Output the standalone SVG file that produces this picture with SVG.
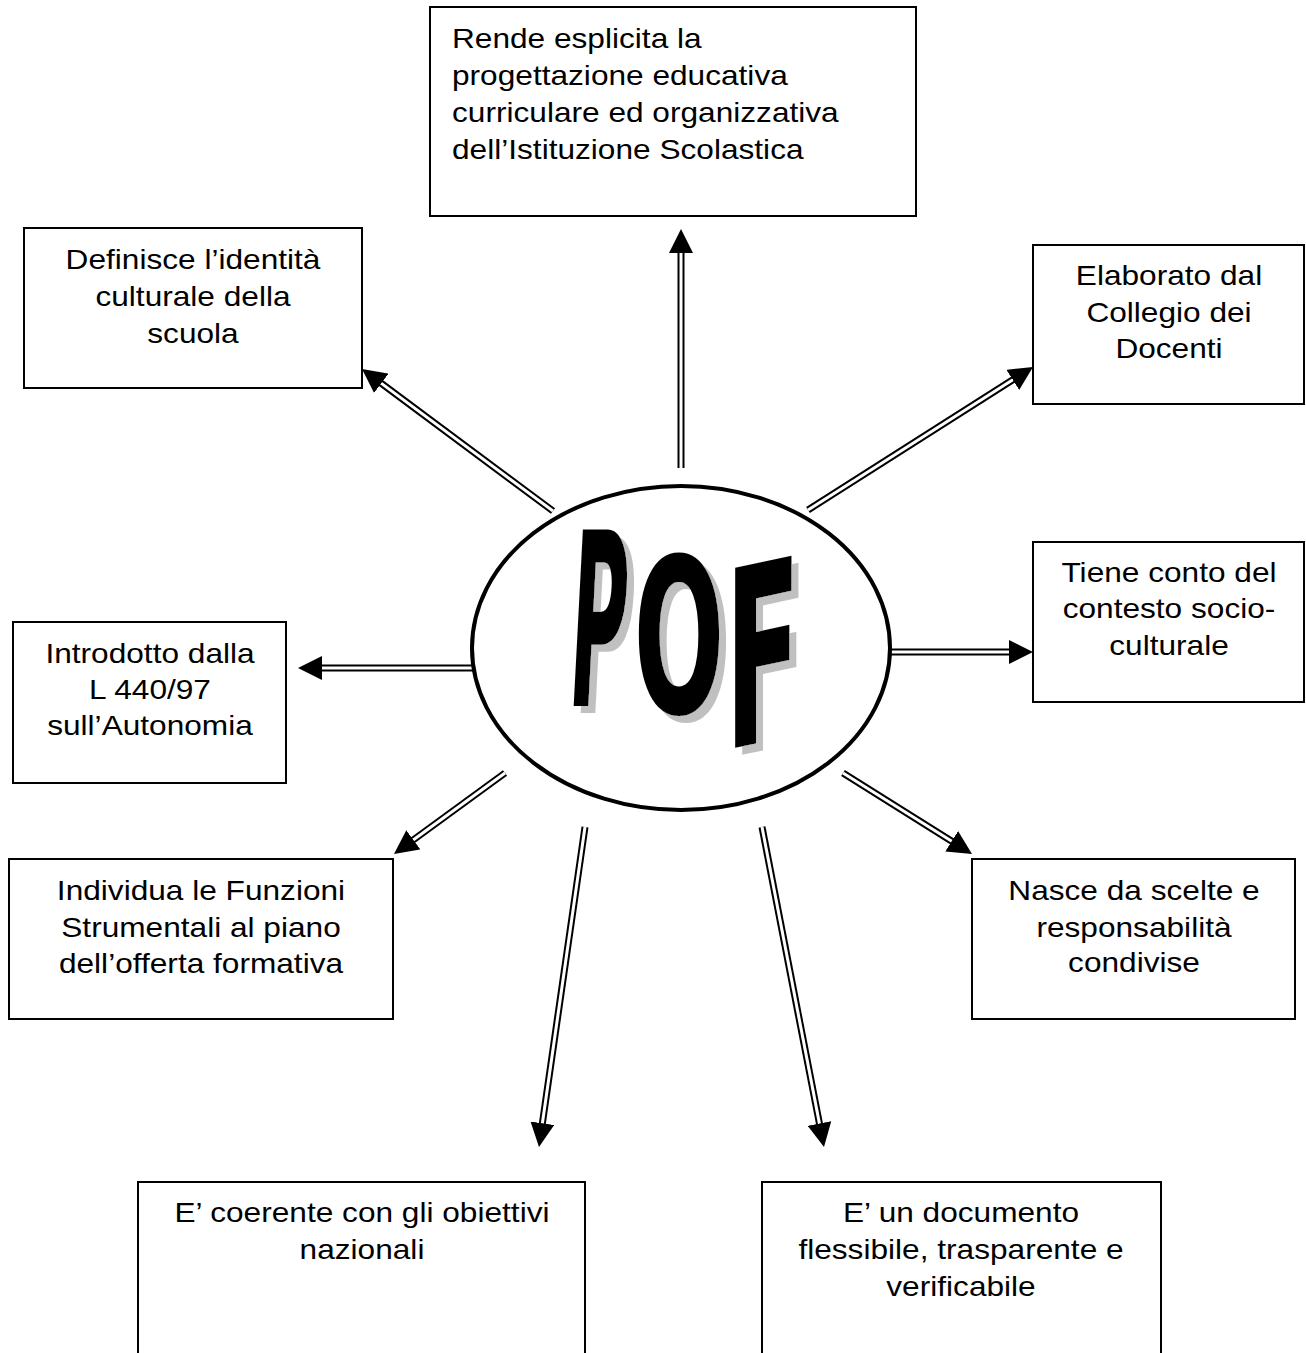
<svg xmlns="http://www.w3.org/2000/svg" width="1306" height="1353" viewBox="0 0 1306 1353">
<style>
.box{fill:#fff;stroke:#000;stroke-width:2}
.t{font-family:"Liberation Sans",Arial,sans-serif;font-size:28px;fill:#000}
.c{text-anchor:middle}
.o{stroke:#000;stroke-width:7;fill:none}
.i{stroke:#fff;stroke-width:3;fill:none}
.m{stroke:none;fill:none;marker-end:url(#ah)}
.pof{font-family:"DejaVu Sans",sans-serif;font-weight:bold;font-size:100px;text-anchor:middle;fill:#000}
</style>
<defs>
<marker id="ah" markerUnits="userSpaceOnUse" markerWidth="24" markerHeight="24" refX="24" refY="12" orient="auto">
<path d="M0,0 L24,12 L0,24 z" fill="#000"/>
</marker>
<filter id="shadow" x="-20%" y="-20%" width="140%" height="140%">
<feOffset in="SourceAlpha" dx="7" dy="7" result="off"/>
<feFlood flood-color="#c0c0c0"/>
<feComposite in2="off" operator="in" result="sh"/>
<feMerge><feMergeNode in="sh"/><feMergeNode in="SourceGraphic"/></feMerge>
</filter>
</defs>
<rect width="1306" height="1353" fill="#fff"/>

<g id="connectors">
<g><line class="o" x1="681" y1="468" x2="681" y2="251"/><line class="i" x1="681" y1="468" x2="681" y2="251"/><line class="m" x1="681" y1="468" x2="681" y2="229"/></g>
<g><line class="o" x1="553" y1="511" x2="379.7" y2="382.1"/><line class="i" x1="553" y1="511" x2="379.7" y2="382.1"/><line class="m" x1="553" y1="511" x2="362" y2="369"/></g>
<g><line class="o" x1="808" y1="510" x2="1014.4" y2="378.8"/><line class="i" x1="808" y1="510" x2="1014.4" y2="378.8"/><line class="m" x1="808" y1="510" x2="1033" y2="367"/></g>
<g><line class="o" x1="890" y1="652" x2="1011" y2="652"/><line class="i" x1="890" y1="652" x2="1011" y2="652"/><line class="m" x1="890" y1="652" x2="1033" y2="652"/></g>
<g><line class="o" x1="473" y1="668" x2="320" y2="668"/><line class="i" x1="473" y1="668" x2="320" y2="668"/><line class="m" x1="473" y1="668" x2="298" y2="668"/></g>
<g><line class="o" x1="505" y1="773" x2="411.8" y2="841"/><line class="i" x1="505" y1="773" x2="411.8" y2="841"/><line class="m" x1="505" y1="773" x2="394" y2="854"/></g>
<g><line class="o" x1="843" y1="773" x2="953.4" y2="842.3"/><line class="i" x1="843" y1="773" x2="953.4" y2="842.3"/><line class="m" x1="843" y1="773" x2="972" y2="854"/></g>
<g><line class="o" x1="585" y1="827" x2="542.1" y2="1125.2"/><line class="i" x1="585" y1="827" x2="542.1" y2="1125.2"/><line class="m" x1="585" y1="827" x2="539" y2="1147"/></g>
<g><line class="o" x1="762" y1="827" x2="819.8" y2="1125.4"/><line class="i" x1="762" y1="827" x2="819.8" y2="1125.4"/><line class="m" x1="762" y1="827" x2="824" y2="1147"/></g>
</g>

<g id="pof">
<ellipse cx="681" cy="648" rx="209" ry="162" fill="#fff" stroke="#000" stroke-width="4"/>
<g filter="url(#shadow)">
<text class="pof" transform="translate(595 706) skewX(-3) scale(0.78 2.42)">P</text>
<text class="pof" transform="translate(679 713) scale(1.07 2.16)">O</text>
<text class="pof" transform="translate(763 742) skewY(-12) scale(1.11 2.47)">F</text>
</g>
</g>

<g id="n-rende">
<rect class="box" x="430" y="7" width="486" height="209"/>
<text class="t" transform="translate(452 0) scale(1.13 1)"><tspan x="0" y="48">Rende esplicita la</tspan><tspan x="0" y="85">progettazione educativa</tspan><tspan x="0" y="122">curriculare ed organizzativa</tspan><tspan x="0" y="159">dell’Istituzione Scolastica</tspan></text>
</g>

<g id="n-definisce">
<rect class="box" x="24" y="228" width="338" height="160"/>
<text class="t c" transform="translate(193 0) scale(1.13 1)"><tspan x="0" y="269">Definisce l’identità</tspan><tspan x="0" y="306">culturale della</tspan><tspan x="0" y="343">scuola</tspan></text>
</g>

<g id="n-elaborato">
<rect class="box" x="1033" y="245" width="271" height="159"/>
<text class="t c" transform="translate(1169 0) scale(1.13 1)"><tspan x="0" y="285">Elaborato dal</tspan><tspan x="0" y="322">Collegio dei</tspan><tspan x="0" y="358">Docenti</tspan></text>
</g>

<g id="n-tiene">
<rect class="box" x="1033" y="542" width="271" height="160"/>
<text class="t c" transform="translate(1169 0) scale(1.13 1)"><tspan x="0" y="582">Tiene conto del</tspan><tspan x="0" y="618">contesto socio-</tspan><tspan x="0" y="655">culturale</tspan></text>
</g>

<g id="n-introdotto">
<rect class="box" x="13" y="622" width="273" height="161"/>
<text class="t c" transform="translate(150 0) scale(1.13 1)"><tspan x="0" y="663">Introdotto dalla</tspan><tspan x="0" y="699">L 440/97</tspan><tspan x="0" y="735">sull’Autonomia</tspan></text>
</g>

<g id="n-individua">
<rect class="box" x="9" y="859" width="384" height="160"/>
<text class="t c" transform="translate(201 0) scale(1.13 1)"><tspan x="0" y="900">Individua le Funzioni</tspan><tspan x="0" y="937">Strumentali al piano</tspan><tspan x="0" y="973">dell’offerta formativa</tspan></text>
</g>

<g id="n-nasce">
<rect class="box" x="972" y="859" width="323" height="160"/>
<text class="t c" transform="translate(1134 0) scale(1.13 1)"><tspan x="0" y="900">Nasce da scelte e</tspan><tspan x="0" y="937">responsabilità</tspan><tspan x="0" y="972">condivise</tspan></text>
</g>

<g id="n-coerente">
<rect class="box" x="138" y="1182" width="447" height="200"/>
<text class="t c" transform="translate(362 0) scale(1.13 1)"><tspan x="0" y="1222">E’ coerente con gli obiettivi</tspan><tspan x="0" y="1259">nazionali</tspan></text>
</g>

<g id="n-documento">
<rect class="box" x="762" y="1182" width="399" height="200"/>
<text class="t c" transform="translate(961 0) scale(1.13 1)"><tspan x="0" y="1222">E’ un documento</tspan><tspan x="0" y="1259">flessibile, trasparente e</tspan><tspan x="0" y="1296">verificabile</tspan></text>
</g>
</svg>
